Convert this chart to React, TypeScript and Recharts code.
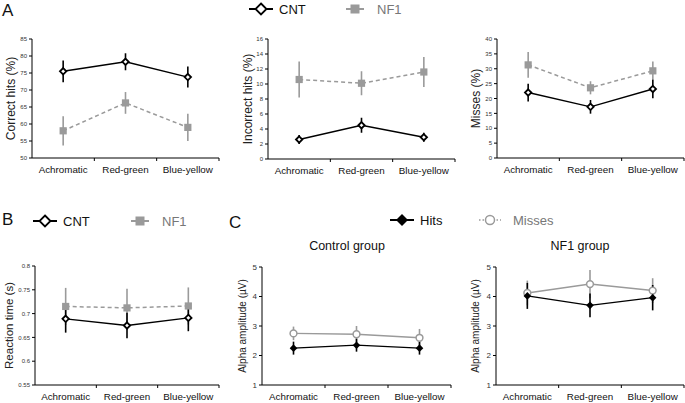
import { LineChart, Line, XAxis, YAxis, ErrorBar } from 'recharts'

const conditions = ['Achromatic', 'Red-green', 'Blue-yellow']

// A: task performance (%)
const correctCnt = [75.5, 78.3, 73.8]
const correctCntErr = [3.2, 2.5, 3.1]
const correctNf1 = [58.0, 66.2, 59.0]
const correctNf1Err = [4.3, 3.2, 4.0]

const incorrectCnt = [2.6, 4.5, 2.9]
const incorrectCntErr = [0.6, 1.0, 0.6]
const incorrectNf1 = [10.6, 10.1, 11.6]
const incorrectNf1Err = [2.4, 1.6, 2.0]

const missesCnt = [22.0, 17.2, 23.2]
const missesCntErr = [3.0, 2.3, 3.1]
const missesNf1 = [31.3, 23.6, 29.3]
const missesNf1Err = [4.3, 2.2, 3.1]

// B: reaction time (s)
const rtCnt = [0.689, 0.675, 0.691]
const rtCntErr = [0.029, 0.027, 0.028]
const rtNf1 = [0.715, 0.712, 0.716]
const rtNf1Err = [0.039, 0.04, 0.039]

// C: alpha amplitude (uV)
const ctrlHits = [2.25, 2.35, 2.25]
const ctrlHitsErr = [0.22, 0.22, 0.22]
const ctrlMisses = [2.75, 2.72, 2.6]
const ctrlMissesErr = [0.23, 0.28, 0.3]
const nf1Hits = [4.02, 3.7, 3.96]
const nf1HitsErr = [0.44, 0.4, 0.43]
const nf1Misses = [4.12, 4.42, 4.2]
const nf1MissesErr = [0.42, 0.48, 0.42]

const correctTicks = [50, 55, 60, 65, 70, 75, 80, 85]
const incorrectTicks = [0, 2, 4, 6, 8, 10, 12, 14, 16]
const missesTicks = [0, 5, 10, 15, 20, 25, 30, 35, 40]
const rtTicks = [0.55, 0.6, 0.65, 0.7, 0.75, 0.8]
const alphaTicks = [1, 2, 3, 4, 5]

const GREY = '#9a9a9a'
const FONT = '"Liberation Sans", Arial, Helvetica, sans-serif'

const buildRows = (a: number[], aErr: number[], b: number[], bErr: number[]) =>
  conditions.map((cond, i) => ({ cond, a: a[i], aErr: aErr[i], b: b[i], bErr: bErr[i] }))

const OpenDiamond = (p: any) => {
  const { cx, cy } = p
  if (cx == null || cy == null) return <g key={p.index} />
  const s = 3.2
  return (
    <path key={p.index} d={`M${cx},${cy - s}L${cx + s},${cy}L${cx},${cy + s}L${cx - s},${cy}Z`}
      fill="#fff" stroke="#000" strokeWidth={1.8} />
  )
}

const FilledDiamond = (p: any) => {
  const { cx, cy } = p
  if (cx == null || cy == null) return <g key={p.index} />
  const s = 3.8
  return <path key={p.index} d={`M${cx},${cy - s}L${cx + s},${cy}L${cx},${cy + s}L${cx - s},${cy}Z`} fill="#000" />
}

const GreySquare = (p: any) => {
  const { cx, cy } = p
  if (cx == null || cy == null) return <g key={p.index} />
  return <rect key={p.index} x={cx - 3.6} y={cy - 3.6} width={7.2} height={7.2} fill={GREY} />
}

const OpenCircle = (p: any) => {
  const { cx, cy } = p
  if (cx == null || cy == null) return <g key={p.index} />
  return <circle key={p.index} cx={cx} cy={cy} r={3.4} fill="#fff" stroke={GREY} strokeWidth={1.5} />
}

type PanelProps = {
  rows: ReturnType<typeof buildRows>
  x0: number
  x1: number
  y0: number
  y1: number
  domain: [number, number]
  ticks: number[]
  yLabel: string
  labelDist: number
  labelSize: number
  tickSize: number
  kind: 'group' | 'alpha'
}

const Panel = (props: PanelProps) => {
  const { rows, x0, x1, y0, y1, domain, ticks, yLabel, labelDist, labelSize, tickSize, kind } = props
  const yw = 40
  const xh = 25
  const padTop = 10
  const width = x1 - x0 + yw + 2
  const height = y1 - y0 + padTop + xh
  const half = (x1 - x0) / 6

  const CatTick = (t: any) => (
    <g>
      <line x1={t.x + half} y1={t.y} x2={t.x + half} y2={t.y + 3} stroke="#000" strokeWidth={1} />
      <text x={t.x} y={t.y + 15} textAnchor="middle" fontSize={9.8} fontFamily={FONT} fill="#111">
        {t.payload.value}
      </text>
    </g>
  )

  const grey = kind === 'group'
  return (
    <div style={{ position: 'absolute', left: x0 - yw, top: y0 - padTop }}>
      <LineChart width={width} height={height} data={rows}
        margin={{ top: padTop, right: 2, left: 0, bottom: 0 }}>
        <XAxis dataKey="cond" scale="band" height={xh} tickLine={false} tickSize={0} tickMargin={0}
          axisLine={{ stroke: '#000', strokeWidth: 1 }} tick={CatTick} interval={0} />
        <YAxis width={yw} type="number" domain={domain} ticks={ticks} interval={0}
          tickSize={3} tickMargin={2}
          tick={{ fontSize: tickSize, fill: '#333', fontFamily: FONT }}
          tickLine={{ stroke: '#000' }} axisLine={{ stroke: '#000', strokeWidth: 1 }}
          label={{ value: yLabel, angle: -90, position: 'insideLeft', offset: yw - labelDist,
            style: { textAnchor: 'middle', fontSize: labelSize, fontFamily: FONT, fill: '#222' } }} />
        <Line dataKey="b" stroke={GREY} strokeWidth={1.5} strokeDasharray={grey ? '4 3' : undefined}
          dot={grey ? GreySquare : OpenCircle} activeDot={false} isAnimationActive={false}>
          <ErrorBar dataKey="bErr" width={0} stroke={GREY} strokeWidth={1.6} isAnimationActive={false} />
        </Line>
        <Line dataKey="a" stroke="#000" strokeWidth={1.4}
          dot={grey ? OpenDiamond : FilledDiamond} activeDot={false} isAnimationActive={false}>
          <ErrorBar dataKey="aErr" width={0} stroke="#000" strokeWidth={1.6} isAnimationActive={false} />
        </Line>
      </LineChart>
    </div>
  )
}

const Legend2 = (props: { x: number; y: number; a: string; b: string; bx: number; kind: 'group' | 'alpha' }) => {
  const { x, y, a, b, bx, kind } = props
  const s = kind === 'group' ? 5.5 : 6
  return (
    <g>
      <line x1={x - 12} y1={y} x2={x + 12} y2={y} stroke="#000" strokeWidth={2} />
      {kind === 'group' ? (
        <path d={`M${x},${y - s}L${x + s},${y}L${x},${y + s}L${x - s},${y}Z`} fill="#fff" stroke="#000" strokeWidth={1.8} />
      ) : (
        <path d={`M${x},${y - s}L${x + s},${y}L${x},${y + s}L${x - s},${y}Z`} fill="#000" />
      )}
      <text x={x + 18} y={y + 4.6} fontSize={13} fontFamily={FONT} fill="#111">{a}</text>
      {kind === 'group' ? (
        <g>
          <line x1={bx - 9} y1={y} x2={bx + 9} y2={y} stroke={GREY} strokeWidth={2} />
          <rect x={bx - 4.5} y={y - 4.5} width={9} height={9} fill={GREY} />
        </g>
      ) : (
        <g>
          <line x1={bx - 12} y1={y} x2={bx + 10} y2={y} stroke={GREY} strokeWidth={1.5} strokeDasharray="1.5 2" />
          <circle cx={bx - 1} cy={y} r={4.5} fill="#fff" stroke={GREY} strokeWidth={1.5} />
        </g>
      )}
      <text x={bx + 22} y={y + 4.6} fontSize={13} fontFamily={FONT} fill="#777">{b}</text>
    </g>
  )
}

export default function App() {
  return (
    <div style={{ position: 'absolute', left: 0, top: 0, width: 685, height: 403, background: '#fff', fontFamily: FONT }}>
      <Panel rows={buildRows(correctCnt, correctCntErr, correctNf1, correctNf1Err)} x0={32} x1={219} y0={39} y1={158}
        domain={[50, 85]} ticks={correctTicks} yLabel="Correct hits (%)" labelDist={21} labelSize={12} tickSize={6} kind="group" />
      <Panel rows={buildRows(incorrectCnt, incorrectCntErr, incorrectNf1, incorrectNf1Err)} x0={268} x1={455} y0={39} y1={159}
        domain={[0, 16]} ticks={incorrectTicks} yLabel="Incorrect hits (%)" labelDist={20} labelSize={12} tickSize={6} kind="group" />
      <Panel rows={buildRows(missesCnt, missesCntErr, missesNf1, missesNf1Err)} x0={497} x1={684} y0={39} y1={158}
        domain={[0, 40]} ticks={missesTicks} yLabel="Misses (%)" labelDist={21} labelSize={12} tickSize={6} kind="group" />
      <Panel rows={buildRows(rtCnt, rtCntErr, rtNf1, rtNf1Err)} x0={35} x1={219} y0={266} y1={385}
        domain={[0.55, 0.8]} ticks={rtTicks} yLabel="Reaction time (s)" labelDist={26} labelSize={11.5} tickSize={6} kind="group" />
      <Panel rows={buildRows(ctrlHits, ctrlHitsErr, ctrlMisses, ctrlMissesErr)} x0={262} x1={451} y0={267} y1={385}
        domain={[1, 5]} ticks={alphaTicks} yLabel="Alpha amplitude (µV)" labelDist={20} labelSize={10} tickSize={8} kind="alpha" />
      <Panel rows={buildRows(nf1Hits, nf1HitsErr, nf1Misses, nf1MissesErr)} x0={496} x1={684} y0={267} y1={385}
        domain={[1, 5]} ticks={alphaTicks} yLabel="Alpha amplitude (µV)" labelDist={21} labelSize={10} tickSize={8} kind="alpha" />

      <svg width={685} height={403} style={{ position: 'absolute', left: 0, top: 0, pointerEvents: 'none' }}>
        <text x={2} y={15.5} fontSize={17} fontFamily={FONT} fill="#111">A</text>
        <text x={2} y={225} fontSize={17} fontFamily={FONT} fill="#111">B</text>
        <text x={229} y={228} fontSize={17} fontFamily={FONT} fill="#111">C</text>
        <Legend2 x={261} y={9} a="CNT" b="NF1" bx={355} kind="group" />
        <Legend2 x={45} y={221} a="CNT" b="NF1" bx={140} kind="group" />
        <Legend2 x={402} y={220} a="Hits" b="Misses" bx={491} kind="alpha" />
        <text x={347} y={250} textAnchor="middle" fontSize={12.5} fontFamily={FONT} fill="#111">Control group</text>
        <text x={580} y={250} textAnchor="middle" fontSize={12.5} fontFamily={FONT} fill="#111">NF1 group</text>
      </svg>
    </div>
  )
}
